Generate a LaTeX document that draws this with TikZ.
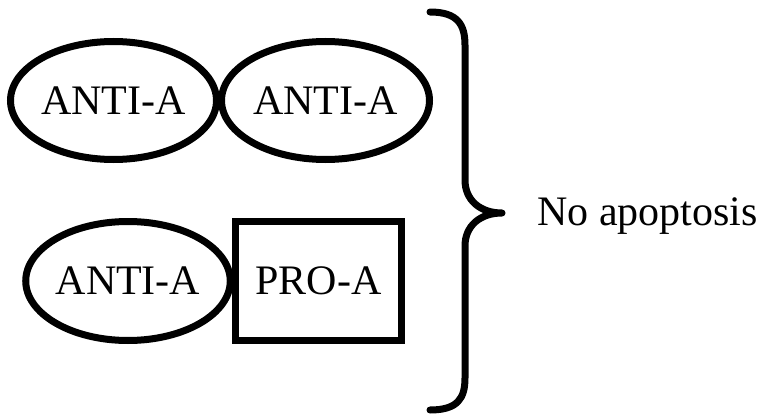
\documentclass[tikz,border=0pt]{standalone}
\usepackage{fontspec}
\setmainfont{Liberation Serif}
\usetikzlibrary{shapes.geometric}
\begin{document}
\begin{tikzpicture}[x=1pt,y=-1pt,
  every node/.style={font=\fontsize{42}{50}\selectfont},
  protein/.style={draw=black,line width=7pt,inner sep=0pt},
  anti/.style={protein,ellipse},
  pro/.style={protein,rectangle},
  brace/.style={draw=black,line width=7pt,line cap=round,line join=round}]
\useasboundingbox (0,0) rectangle (764,420);
% upper pair
\node[anti,minimum width=206pt,minimum height=118pt] (a1) at (113.5,100.5) {ANTI-A};
\node[anti,minimum width=208pt,minimum height=118pt] (a2) at (325.5,100.5) {ANTI-A};
% lower pair
\node[anti,minimum width=203pt,minimum height=119pt] (a3) at (128,281) {ANTI-A};
\node[pro,minimum width=166pt,minimum height=119pt] (p1) at (318.5,281) {PRO-A};
% curly brace
\coordinate (tip) at (502,213);
\draw[brace] (430,12) .. controls (458,12) and (465,25) .. (465,45)
  -- (465,180) .. controls (465,200) and (480,213) .. (tip)
  .. controls (480,213) and (465,226) .. (465,246)
  -- (465,378) .. controls (465,398) and (458,410) .. (430,410);
\node[anchor=base west,inner sep=0pt] (res) at (537,225) {No apoptosis};
\end{tikzpicture}
\end{document}
